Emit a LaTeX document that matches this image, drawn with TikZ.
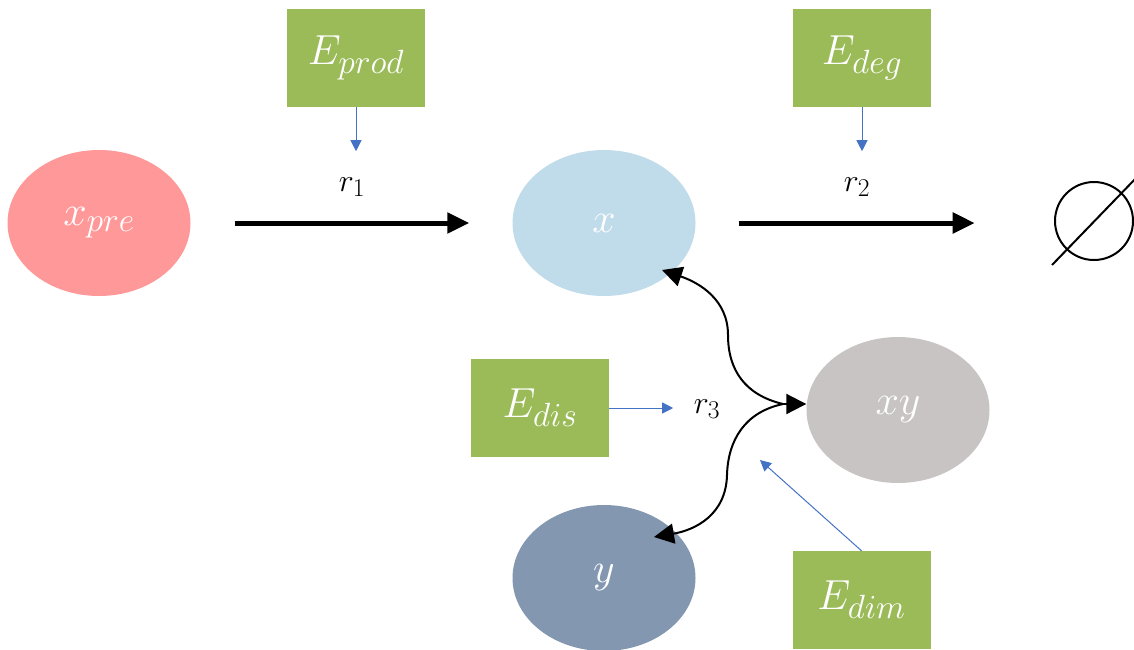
\documentclass[tikz,border=0pt]{standalone}
\usepackage{fix-cm}
\renewcommand\defaultscriptratio{.8}
\usetikzlibrary{arrows.meta,shapes.geometric}
\definecolor{cpre}{HTML}{FF9999}
\definecolor{cx}{HTML}{C0DBE9}
\definecolor{cxy}{HTML}{C8C4C4}
\definecolor{cy}{HTML}{8497B0}
\definecolor{cgreen}{HTML}{9BBB59}
\definecolor{cblue}{HTML}{4472C4}
\begin{document}
\begin{tikzpicture}[x=1pt,y=-1pt,
  ell/.style={ellipse, minimum width=183, minimum height=146, inner sep=0, text=white, font=\fontsize{42}{48}\selectfont},
  ebox/.style={fill=cgreen, minimum width=138, minimum height=98, inner sep=0, text=white, font=\fontsize{42}{48}\selectfont},
  bigarrow/.style={line width=5, -{Triangle[length=22,width=20]}},
  bluearrow/.style={cblue, line width=1, -{Triangle[length=11,width=11]}},
  curvearrow/.style={line width=2, -{Triangle[length=20,width=20]}},
  lbl/.style={font=\fontsize{32}{36}\selectfont, inner sep=0}]
\useasboundingbox (0,0) rectangle (1134,649);
% species
\node[ell, fill=cpre] (xpre) at (99,223) {$x_{pre}$};
\node[ell, fill=cx] (x) at (604,223) {$x$};
\node[ell, fill=cxy] (xy) at (898,410) {$xy$};
\node[ell, fill=cy] (y) at (604,578) {$y$};
% enzymes
\node[ebox] (Eprod) at (356,58) {$E_{prod}$};
\node[ebox] (Edeg) at (862,58) {$E_{deg}$};
\node[ebox] (Edis) at (540,408) {$E_{dis}$};
\node[ebox] (Edim) at (861.5,600) {$E_{dim}$};
% rate labels
\node[lbl] (r1) at (352,187) {$r_1$};
\node[lbl] (r2) at (857,187) {$r_2$};
\node[lbl] (r3) at (707,409) {$r_3$};
% empty set
\node[circle, draw, line width=2, minimum size=78, inner sep=0] (empty) at (1094,221) {};
\draw[line width=2] (1052,265) -- (1138,176);
% main reactions
\draw[bigarrow] ([xshift=44]xpre.east) -- ([xshift=-43]x.west);
\draw[bigarrow] ([xshift=43]x.east) -- ++(236,0);
% enzyme actions
\coordinate (dimtip) at (760,460);
\draw[bluearrow] (Eprod.south) -- ++(0,44);
\draw[bluearrow] (Edeg.south) -- ++(0,44);
\draw[bluearrow] (Edis.east) -- ++(64,0);
\draw[bluearrow] (Edim.north) -- (dimtip);
% reversible dimerisation
\coordinate (j) at (783,404);
\coordinate (xtip) at (662,270);
\coordinate (ytip) at (654,537);
\draw[curvearrow] (j) -- (xy.west |- j);
\draw[curvearrow] (j) .. controls (745,395) and (728,370) .. (728,335) .. controls (728,300) and (700,283) .. (xtip);
\draw[curvearrow] (j) .. controls (745,412) and (728,440) .. (727,475) .. controls (726,515) and (695,530) .. (ytip);
\end{tikzpicture}
\end{document}
